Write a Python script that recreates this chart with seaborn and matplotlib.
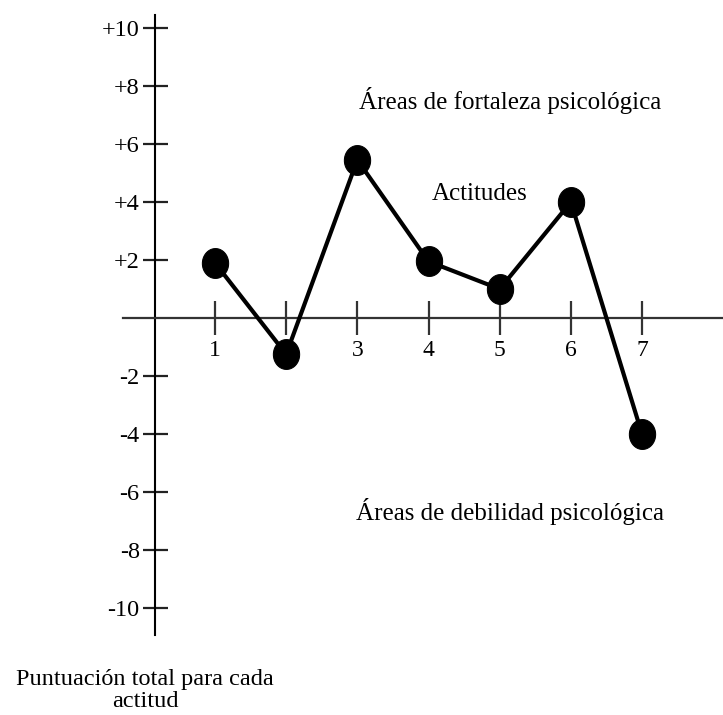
import numpy as np
import pandas as pd
import matplotlib
matplotlib.use("Agg")
import matplotlib.pyplot as plt
from matplotlib.path import Path
import seaborn as sns

# Data
actitudes = [1, 2, 3, 4, 5, 6, 7]
puntuacion = [1.9, -1.25, 5.45, 1.95, 1.0, 4.0, -4.0]
x_tick_labels = ["1", "", "3", "4", "5", "6", "7"]
y_ticks = [10, 8, 6, 4, 2, -2, -4, -6, -8, -10]
y_tick_labels = ["+10", "+8", "+6", "+4", "+2", "-2", "-4", "-6", "-8", "-10"]

sns.set_style("white")
plt.rcParams["font.family"] = ["Liberation Serif", "DejaVu Serif"]
plt.rcParams["text.color"] = "black"
plt.rcParams["xtick.labelcolor"] = "black"
plt.rcParams["ytick.labelcolor"] = "black"

fig = plt.figure(figsize=(7.23, 7.15), dpi=100)
ax = fig.add_axes([0, 0, 1, 1])
ax.set_facecolor("white")

# elliptical marker
t = np.linspace(0, 2 * np.pi, 60)
ell = Path(np.column_stack([0.44 * np.cos(t), 0.5 * np.sin(t)]), closed=True)

df = pd.DataFrame({"actitud": actitudes, "puntuacion": puntuacion})
sns.lineplot(data=df, x="actitud", y="puntuacion", ax=ax, color="black",
             linewidth=3.0, marker=ell, markersize=21.5,
             markerfacecolor="black", markeredgecolor="black", zorder=5)

ax.set_xlim(-2.021, 8.138)
ax.set_ylim(-13.69, 10.966)

# spines as crossing axes
for s in ["top", "right"]:
    ax.spines[s].set_visible(False)
ax.spines["left"].set_position(("data", 0.157))
ax.spines["left"].set_bounds(-10.93, 10.45)
ax.spines["left"].set_linewidth(1.5)
ax.spines["left"].set_color("black")
ax.spines["bottom"].set_position(("data", 0))
ax.spines["bottom"].set_bounds(-0.293, 8.138)
ax.spines["bottom"].set_linewidth(1.6)
ax.spines["bottom"].set_color("#333333")

ax.set_yticks(y_ticks)
ax.set_yticklabels(y_tick_labels, fontsize=17.5)
ax.set_xticks(actitudes)
ax.set_xticklabels(x_tick_labels, fontsize=17)
ax.tick_params(axis="y", direction="inout", length=18, width=1.6, pad=2,
               left=True, color="#222222")
ax.tick_params(axis="x", direction="inout", length=24, width=1.6, pad=4,
               bottom=True, color="#333333")
ax.set_xlabel("")
ax.set_ylabel("")
ax.grid(False)

fs = 18
ax.text(0.705, 0.859, "Áreas de fortaleza psicológica", transform=ax.transAxes,
        ha="center", va="center", fontsize=fs)
ax.text(0.664, 0.729, "Actitudes", transform=ax.transAxes,
        ha="center", va="center", fontsize=fs)
ax.text(0.706, 0.285, "Áreas de debilidad psicológica", transform=ax.transAxes,
        ha="center", va="center", fontsize=fs)
ax.text(0.201, 0.004, "Puntuación total para cada\nactitud", transform=ax.transAxes,
        ha="center", va="bottom", fontsize=17.5, linespacing=1.05)

fig.savefig("out.png", dpi=100)
